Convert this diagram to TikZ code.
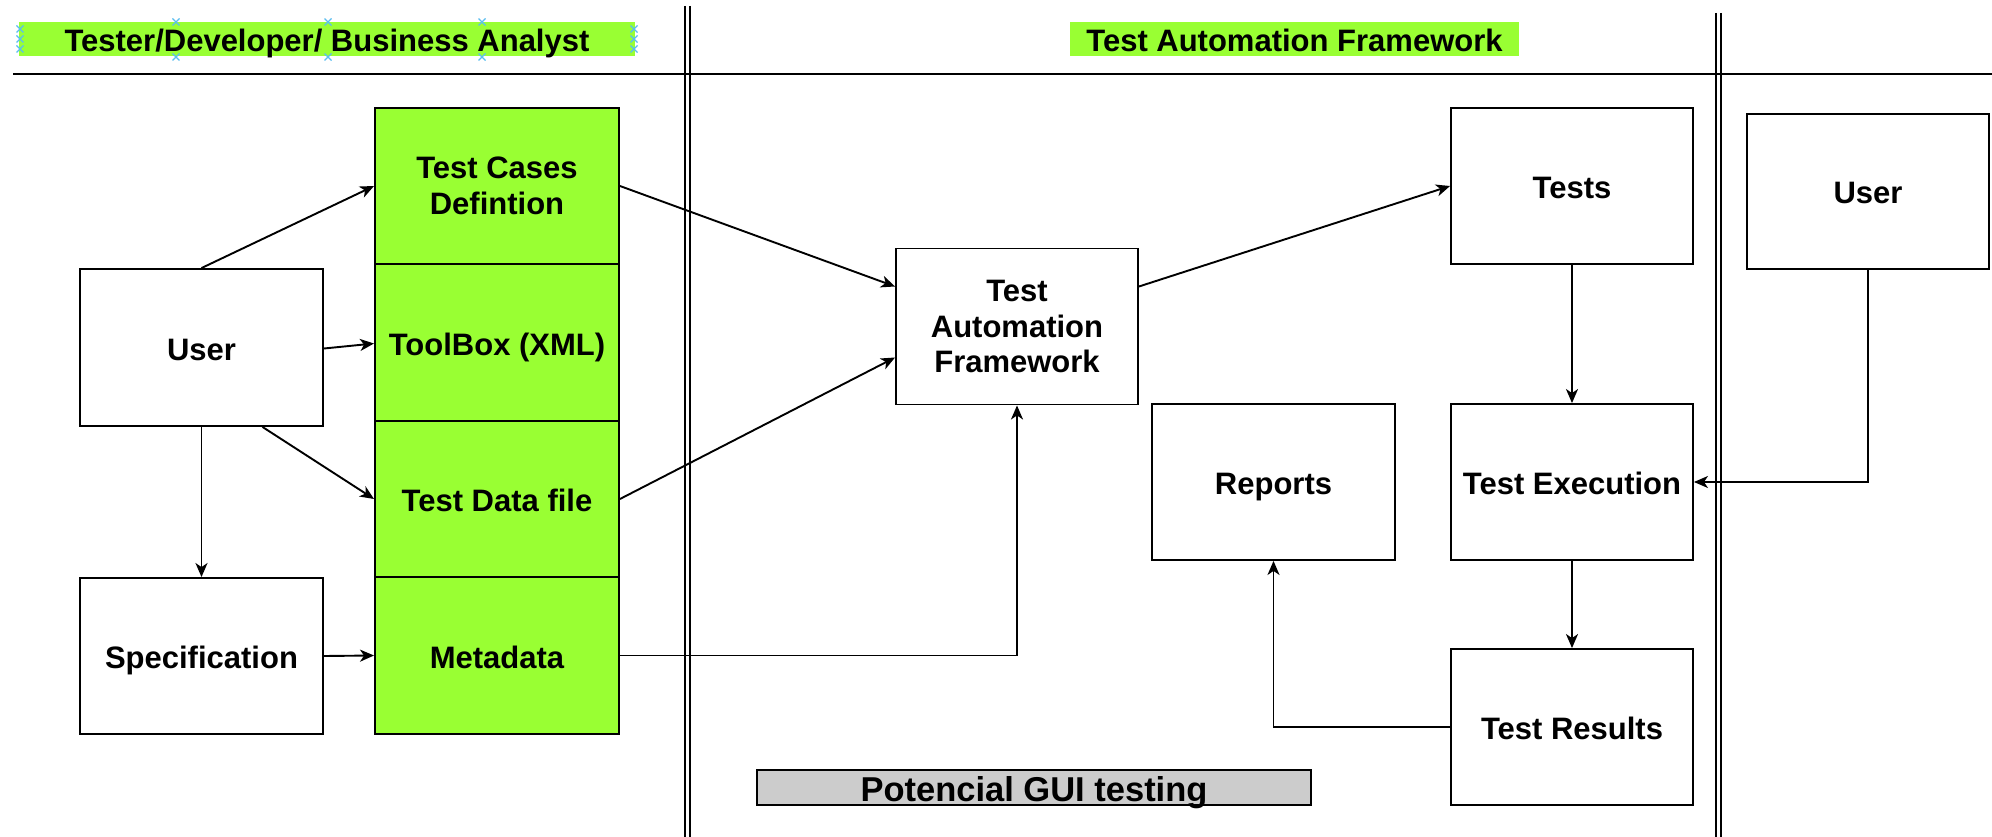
\documentclass[tikz,border=0pt]{standalone}
\usepackage{fontspec}
\setmainfont{Liberation Sans}
\usetikzlibrary{arrows.meta,calc}
\definecolor{lgreen}{RGB}{153,255,51}
\definecolor{lgray}{RGB}{204,204,204}
\definecolor{handle}{RGB}{90,190,240}
\tikzset{
  box/.style={draw=black, line width=1.9pt, fill=white, inner sep=0pt, align=center,
    font=\fontsize{31}{35.6}\selectfont\bfseries},
  one/.style={text height=25pt, text depth=0pt},
  gbox/.style={box, fill=lgreen},
  hdr/.style={fill=lgreen, inner sep=0pt, font=\fontsize{31}{35.6}\selectfont\bfseries, one},
  conn/.style={line width=1.9pt, -{Stealth[length=14pt,width=12pt,inset=4pt]}},
  sep/.style={line width=1.7pt},
  hx/.style={handle, line width=1.3pt}
}
\newcommand{\hcross}[2]{\draw[hx] (#1-3.5,#2-3.5) -- (#1+3.5,#2+3.5) (#1-3.5,#2+3.5) -- (#1+3.5,#2-3.5);}
\begin{document}
\begin{tikzpicture}[x=1pt,y=-1pt]
\useasboundingbox (0,0) rectangle (1992,837);
\fill[white] (0,0) rectangle (1992,837);

% separators
\draw[sep] (13,74) -- (1992,74);
\draw[sep] (685,6) -- (685,837);
\draw[sep] (690,6) -- (690,837);
\draw[sep] (1716,13) -- (1716,837);
\draw[sep] (1721,13) -- (1721,837);

% headers
\node[hdr, minimum width=616pt, minimum height=34pt] (h1) at (327,39) {Tester/Developer/ Business Analyst};
\node[hdr, minimum width=449pt, minimum height=34pt] (h2) at (1294.5,39) {Test Automation Framework};

% selection handles
\foreach \yy in {29,39,49} {\hcross{20}{\yy}\hcross{634}{\yy}}
\foreach \xx in {176,328,482} {\hcross{\xx}{22}\hcross{\xx}{57}}

% green column
\node[gbox, minimum width=244pt, minimum height=156.5pt] (tcd) at (497,186) {Test Cases\\Defintion};
\node[gbox, one, minimum width=244pt, minimum height=156.5pt] (tb) at (497,342.5) {ToolBox (XML)};
\node[gbox, one, minimum width=244pt, minimum height=156.5pt] (tdf) at (497,499) {Test Data file};
\node[gbox, one, minimum width=244pt, minimum height=156.5pt] (md) at (497,655.5) {Metadata};

% left boxes
\node[box, one, minimum width=243pt, minimum height=157pt] (user) at (201.5,347.5) {User};
\node[box, one, minimum width=243pt, minimum height=156pt] (spec) at (201.5,656) {Specification};

% middle / right boxes
\node[box, minimum width=242pt, minimum height=156pt] (taf) at (1017,326.5) {Test\\Automation\\Framework};
\node[box, one, minimum width=242pt, minimum height=156pt] (tests) at (1572,186) {Tests};
\node[box, one, minimum width=242pt, minimum height=155pt] (user2) at (1868,191.5) {User};
\node[box, one, minimum width=243pt, minimum height=156pt] (reports) at (1273.5,482) {Reports};
\node[box, one, minimum width=242pt, minimum height=156pt] (te) at (1572,482) {Test Execution};
\node[box, one, minimum width=242pt, minimum height=156pt] (tr) at (1572,727) {Test Results};

\node[draw=black, line width=1.9pt, fill=lgray, inner sep=0pt, minimum width=554pt, minimum height=35pt,
  text height=27.5pt, text depth=0pt,
  font=\fontsize{34.5}{40}\selectfont\bfseries] (gui) at (1034,787.5) {Potencial GUI testing};

% connectors
\draw[conn] (user.north) -- (tcd.west);
\draw[conn] ([yshift=-1pt]user.east) -- ([yshift=-1pt]tb.west);
\draw[conn] ([xshift=61pt]user.south) -- (tdf.west);
\draw[conn] (user.south) -- (spec.north);
\draw[conn] (spec.east) -- (md.west);
\draw[conn] (tcd.east) -- ([yshift=40pt]taf.west);
\draw[conn] (tdf.east) -- ([yshift=-31pt]taf.west);
\draw[conn] (md.east) -| (taf.south);
\draw[conn] ([yshift=40pt]taf.east) -- (tests.west);
\draw[conn] (tests.south) -- (te.north);
\draw[conn] (user2.south) |- (te.east);
\draw[conn] (te.south) -- (tr.north);
\draw[conn] (tr.west) -| (reports.south);
\end{tikzpicture}
\end{document}
